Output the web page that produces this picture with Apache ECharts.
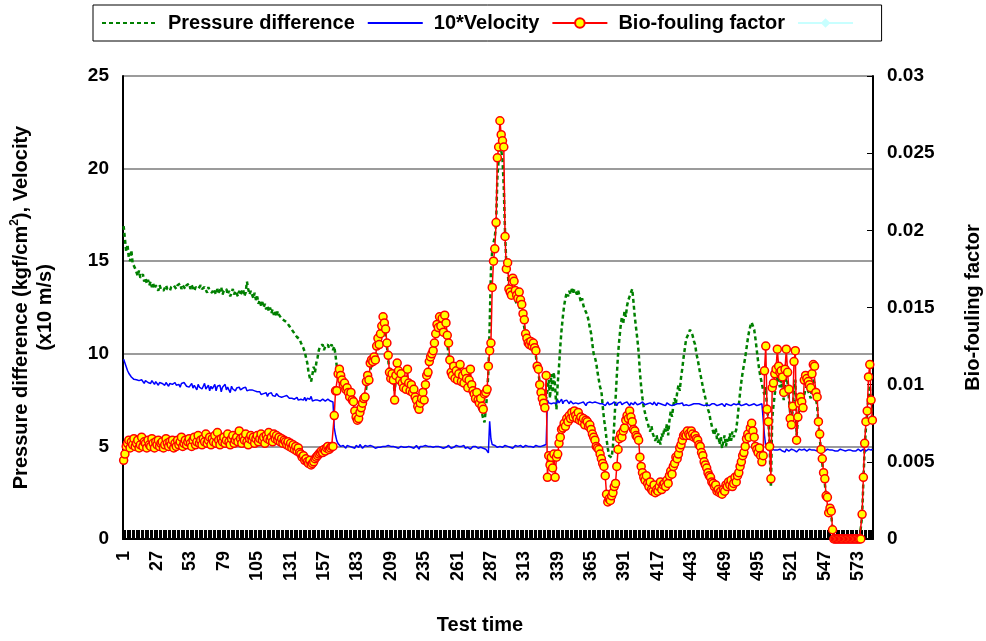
<!DOCTYPE html>
<html>
<head>
<meta charset="utf-8">
<script src="https://cdn.jsdelivr.net/npm/echarts@6.0.0/dist/echarts.min.js"></script>
<style>
html,body{margin:0;padding:0;background:#fff;}
#chart{width:986px;height:641px;}
</style>
</head>
<body>
<div id="chart"></div>
<script>
// ---- DATA ----
const N_POINTS = 584;
const categories = Array.from({length: N_POINTS}, (_, i) => String(i + 1));

// Pressure difference (kgf/cm2), left axis
const pressureDiff = [
16.9,16.2,15.5,15.9,15.2,15.0,15.6,14.9,15.0,14.6,
14.4,14.2,14.5,14.1,14.0,14.3,13.9,14.1,13.8,14.0,
13.7,13.9,13.6,13.8,13.5,13.7,13.6,13.4,13.7,13.5,
13.6,13.4,13.5,13.7,13.5,13.6,13.4,13.6,13.5,13.7,
13.6,13.5,13.7,13.6,13.8,13.5,13.7,13.6,13.5,13.7,
13.6,13.8,13.5,13.7,13.6,13.4,13.6,13.7,13.5,13.6,
13.7,13.5,13.4,13.6,13.5,13.3,13.6,13.4,13.5,13.3,
13.5,13.4,13.2,13.5,13.3,13.4,13.6,13.2,13.4,13.3,
13.5,13.2,13.4,13.1,13.3,13.5,13.2,13.4,13.3,13.1,
13.4,13.2,13.3,13.5,13.1,13.3,13.9,13.5,13.2,13.4,
13.2,13.0,13.3,12.9,13.1,12.7,12.9,12.6,12.8,12.5,
12.7,12.4,12.6,12.3,12.5,12.2,12.4,12.1,12.3,12.0,
12.3,12.1,12.2,11.9,12.0,11.8,11.9,11.7,11.8,11.5,
11.6,11.3,11.4,11.1,11.2,10.9,11.0,10.8,10.6,10.5,
10.3,10.1,10.0,9.5,9.0,8.7,8.5,8.9,9.3,9.0,
9.5,9.8,10.2,10.4,10.3,10.5,10.2,10.4,10.3,10.5,
10.3,10.4,10.5,10.2,10.4,9.9,9.3,8.6,9.0,8.7,
8.4,8.2,8.1,8.0,7.9,7.7,7.5,7.6,7.3,7.1,
6.8,6.5,6.3,6.4,6.6,6.9,7.1,7.4,7.6,8.2,
8.5,8.6,9.1,9.4,9.5,9.6,9.7,10.1,10.4,10.5,
10.8,11.2,11.6,11.5,11.0,10.4,9.7,9.0,8.6,8.7,
8.4,8.0,8.6,9.0,8.9,8.5,8.6,8.3,8.1,8.3,
8.0,8.4,8.2,7.9,8.0,7.8,7.8,7.6,7.3,7.0,
6.9,7.1,7.3,7.6,7.6,8.0,8.5,8.8,9.3,9.6,
9.8,10.0,10.3,10.6,10.9,11.0,11.2,11.1,11.3,11.0,
11.0,10.8,10.5,10.0,9.4,8.9,8.7,8.9,8.6,8.8,
8.5,8.6,8.8,8.4,8.5,8.3,8.5,8.4,8.1,8.3,
8.6,8.2,7.8,7.6,7.4,7.5,7.2,7.0,7.1,6.8,
6.5,6.3,7.0,7.8,9.0,11.5,14.5,15.6,16.0,16.3,
17.0,19.5,20.5,21.3,21.0,20.5,19.0,16.5,14.8,14.6,
13.4,13.1,13.0,13.4,13.2,12.9,12.7,12.6,12.6,12.3,
12.1,11.8,11.4,10.9,10.6,10.4,10.3,10.4,10.2,10.3,
10.1,9.9,9.2,9.0,8.4,8.0,7.7,7.4,7.2,7.6,
8.0,8.6,7.6,8.9,7.9,9.0,8.2,7.0,8.4,9.3,
10.4,11.3,12.0,12.6,13.0,13.3,13.1,13.4,13.2,13.5,
13.3,13.5,13.4,13.2,13.4,13.1,12.8,13.0,12.6,12.4,
12.5,12.1,11.8,11.4,11.1,10.5,10.0,9.8,9.5,9.0,
8.6,8.2,8.0,7.2,6.5,6.0,5.4,4.9,4.5,4.6,
4.4,5.0,6.2,7.5,8.8,10.0,10.8,11.5,12.0,11.6,
12.3,12.0,12.6,12.9,13.1,13.3,13.5,12.8,12.0,11.4,
10.8,10.1,9.0,8.2,7.6,7.1,6.8,6.5,6.3,6.0,
5.8,6.1,5.7,5.5,5.3,5.6,5.2,5.4,5.1,5.7,
5.5,6.0,5.8,6.2,5.6,6.4,6.9,6.6,7.2,7.6,
7.3,7.9,8.3,8.0,8.7,9.2,9.8,10.3,10.8,10.9,
11.1,11.3,11.2,11.0,10.7,10.5,10.0,9.7,9.3,8.9,
8.6,8.2,7.9,7.6,7.3,7.0,6.8,6.4,6.1,5.8,
5.6,6.0,5.4,5.7,5.1,5.5,4.9,5.3,5.6,5.0,
5.4,5.2,5.7,5.3,5.8,5.5,5.5,5.9,6.5,7.2,
7.9,8.5,9.0,9.4,9.8,10.3,10.8,11.2,11.5,11.7,
11.6,11.3,10.8,10.2,9.6,9.1,8.7,8.4,8.0,7.8,
8.2,7.0,6.5,5.0,2.8,6.5,7.2,7.8,8.4,8.8,
8.5,8.2,8.6,8.0,7.5,8.3,8.9,8.4,7.6,6.8,
6.3,7.0,8.2,8.6,5.6,6.4,7.0,7.3,7.1,7.0,
7.8,8.1,8.3,8.0,7.8,7.6,8.2,8.6,8.4,7.6,
7.2,6.2,5.5,4.7,4.1,3.4,3.0,2.2,2.0,1.3,
1.5,1.3,0.5,0,0,0,0,0,0,0,
0,0,0,0,0,0,0,0,0,0,
0,0,0,0,0,1.2,3.1,4.9,6.0,6.8,
7.8,8.3,7.2,6.5
];

// 10*Velocity (x10 m/s), left axis
const velocity10 = [
9.7,9.5,9.3,9.1,8.95,8.85,8.75,8.7,8.62,8.55,
8.6,8.5,8.55,8.45,8.6,8.5,8.4,8.55,8.5,8.45,
8.5,8.4,8.55,8.45,8.35,8.5,8.4,8.3,8.45,8.35,
8.4,8.5,8.3,8.45,8.35,8.25,8.4,8.5,8.35,8.3,
8.45,8.3,8.4,8.35,8.2,8.4,8.3,8.45,8.35,8.25,
8.35,8.2,8.3,8.4,8.15,8.3,8.25,8.05,8.35,8.2,
8.3,8.1,8.25,8.4,8.1,8.2,8.3,8.0,8.25,8.1,
8.2,8.35,8.0,8.25,8.15,8.3,7.95,8.2,8.1,8.35,
8.05,8.2,8.15,7.9,8.25,8.1,8.2,8.0,8.15,8.1,
8.2,8.05,7.95,8.15,8.1,8.2,8.0,8.1,8.05,7.95,
8.05,7.95,8.0,7.9,7.95,7.85,7.95,7.8,7.9,7.85,
7.75,7.9,7.7,7.85,7.8,7.9,7.75,7.8,7.7,7.85,
7.75,7.7,7.8,7.65,7.75,7.7,7.6,7.75,7.65,7.6,
7.7,7.6,7.65,7.55,7.6,7.65,7.5,7.6,7.55,7.6,
7.5,7.65,7.45,7.6,7.5,7.55,7.7,7.45,7.55,7.5,
7.6,7.5,7.55,7.45,7.5,7.55,7.5,7.45,7.5,7.55,
7.5,7.45,7.5,7.4,6.0,5.6,5.3,5.15,5.05,5.0,
4.95,5.05,5.0,4.9,5.05,4.95,5.0,5.1,4.95,5.0,
4.9,5.05,5.0,4.95,5.1,5.0,4.9,5.0,5.05,4.95,
5.0,4.9,5.05,4.95,5.0,5.05,4.9,5.0,4.95,5.05,
4.95,4.85,5.0,4.95,5.0,4.9,5.05,4.95,5.0,4.9,
5.0,5.05,4.95,5.0,4.9,4.95,5.0,5.05,4.95,5.0,
4.95,4.9,5.0,5.05,4.95,5.0,4.9,5.0,5.05,4.95,
4.85,5.0,4.95,5.0,4.9,5.05,4.95,5.0,4.95,5.0,
5.05,4.95,4.9,5.0,4.95,5.0,5.05,4.95,5.0,4.9,
5.0,4.95,5.0,5.05,4.95,4.9,5.0,4.95,5.0,5.05,
4.95,5.0,4.9,5.0,4.95,5.05,4.9,5.0,4.95,5.0,
4.85,4.95,5.0,4.9,5.0,4.95,4.9,5.0,4.95,5.0,
4.9,4.95,4.85,4.95,4.65,6.35,5.4,5.1,5.0,5.05,
5.0,4.95,5.05,5.0,5.1,4.95,5.0,5.05,4.95,5.0,
5.05,4.95,5.0,4.9,5.0,5.05,4.95,5.0,4.95,5.05,
5.0,4.95,5.0,5.05,4.95,5.0,4.9,5.0,5.05,4.95,
5.0,5.05,4.95,5.0,5.05,5.0,4.95,5.05,5.0,5.1,
7.5,7.35,7.45,7.3,7.4,7.35,7.45,7.3,7.5,7.35,
7.4,7.55,7.3,7.45,7.35,7.5,7.4,7.3,7.45,7.35,
7.3,7.4,7.35,7.45,7.3,7.4,7.35,7.3,7.4,7.35,
7.2,7.35,7.3,7.4,7.3,7.35,7.25,7.4,7.3,7.35,
7.25,7.3,7.4,7.3,7.35,7.2,7.3,7.4,7.25,7.35,
7.3,7.25,7.4,7.3,7.2,7.35,7.3,7.4,7.25,7.3,
7.35,7.25,7.4,7.3,7.2,7.35,7.3,7.25,7.4,7.3,
7.25,7.35,7.3,7.2,7.4,7.3,7.25,7.35,7.3,7.2,
7.35,7.3,7.25,7.4,7.3,7.2,7.35,7.25,7.3,7.35,
7.25,7.3,7.2,7.35,7.3,7.25,7.35,7.2,7.3,7.25,
7.35,7.3,7.2,7.3,7.25,7.35,7.2,7.3,7.25,7.3,
7.2,7.3,7.25,7.35,7.3,7.2,7.3,7.25,7.3,7.2,
7.25,7.3,7.2,7.3,7.25,7.35,7.2,7.25,7.3,7.2,
7.3,7.25,7.2,7.3,7.25,7.2,7.3,7.25,7.15,7.3,
7.2,7.25,7.3,7.2,7.25,7.3,7.2,7.25,7.2,7.3,
7.25,7.2,7.3,7.25,7.2,7.3,7.25,7.2,7.3,7.25,
7.2,7.3,7.25,7.2,7.3,7.25,7.2,7.3,7.25,5.6,
5.0,4.85,4.8,4.75,4.8,4.85,4.75,4.8,4.85,4.8,
4.75,4.85,4.8,4.75,4.8,4.7,4.85,4.8,4.75,4.8,
4.85,4.75,4.8,4.8,4.7,4.8,4.85,4.75,4.8,4.75,
4.85,4.8,4.75,4.8,4.85,4.75,4.8,4.7,4.8,4.85,
4.75,4.8,4.8,4.75,4.85,4.8,4.75,4.8,4.85,4.75,
4.8,4.75,4.8,4.85,4.75,4.8,4.75,4.8,4.85,4.75,
4.8,4.8,4.75,4.85,4.8,4.75,4.8,4.85,4.75,4.8,
4.75,4.8,4.85,4.8,4.75,4.8,4.85,4.8,4.75,4.8,
4.85,4.9,4.8,4.85
];

// Bio-fouling factor, right axis
const bioFouling = [
0.0051,0.0055,0.0060,0.0062,0.0064,0.0059,0.0063,0.0061,0.0065,0.0060,
0.0062,0.0064,0.0059,0.0061,0.0066,0.0060,0.0063,0.0062,0.0059,0.0064,
0.0061,0.0060,0.0065,0.0062,0.0059,0.0063,0.0061,0.0064,0.0060,0.0062,
0.0063,0.0059,0.0061,0.0065,0.0062,0.0060,0.0063,0.0061,0.0064,0.0059,
0.0062,0.0060,0.0064,0.0061,0.0063,0.0066,0.0060,0.0062,0.0064,0.0061,
0.0063,0.0065,0.0062,0.0060,0.0064,0.0066,0.0061,0.0063,0.0067,0.0062,
0.0064,0.0061,0.0065,0.0063,0.0068,0.0062,0.0064,0.0066,0.0061,0.0065,
0.0063,0.0067,0.0062,0.0069,0.0064,0.0061,0.0065,0.0063,0.0066,0.0062,
0.0064,0.0068,0.0063,0.0061,0.0065,0.0067,0.0062,0.0064,0.0066,0.0063,
0.0070,0.0065,0.0062,0.0066,0.0064,0.0068,0.0063,0.0061,0.0065,0.0067,
0.0064,0.0066,0.0062,0.0065,0.0067,0.0063,0.0065,0.0068,0.0064,0.0066,
0.0062,0.0067,0.0065,0.0069,0.0064,0.0066,0.0063,0.0068,0.0065,0.0067,
0.0064,0.0066,0.0063,0.0065,0.0062,0.0064,0.0063,0.0061,0.0063,0.0060,
0.0062,0.0059,0.0061,0.0058,0.0060,0.0057,0.0059,0.0056,0.0055,0.0053,
0.0054,0.0051,0.0052,0.0050,0.0049,0.0051,0.0048,0.0049,0.0050,0.0052,
0.0053,0.0054,0.0055,0.0056,0.0057,0.0056,0.0058,0.0057,0.0059,0.0060,
0.0058,0.0059,0.0060,0.0060,0.0080,0.0096,0.0096,0.0107,0.0110,0.0106,
0.0103,0.0100,0.0101,0.0097,0.0098,0.0095,0.0092,0.0095,0.0090,0.0089,
0.0083,0.0079,0.0077,0.0078,0.0082,0.0085,0.0088,0.0091,0.0092,0.0102,
0.0106,0.0103,0.0114,0.0116,0.0115,0.0118,0.0116,0.0125,0.0130,0.0126,
0.0133,0.0138,0.0144,0.0140,0.0136,0.0127,0.0119,0.0108,0.0104,0.0107,
0.0103,0.0090,0.0106,0.0114,0.0109,0.0103,0.0107,0.0101,0.0098,0.0103,
0.0097,0.0110,0.0101,0.0096,0.0100,0.0095,0.0097,0.0092,0.0090,0.0086,
0.0084,0.0088,0.0091,0.0095,0.0090,0.0100,0.0106,0.0108,0.0115,0.0118,
0.0120,0.0122,0.0127,0.0133,0.0139,0.0137,0.0144,0.0138,0.0143,0.0134,
0.0145,0.0140,0.0132,0.0127,0.0116,0.0108,0.0106,0.0112,0.0104,0.0109,
0.0103,0.0107,0.0113,0.0102,0.0106,0.0101,0.0108,0.0104,0.0098,0.0103,
0.0110,0.0100,0.0096,0.0094,0.0091,0.0095,0.0090,0.0088,0.0091,0.0086,
0.0084,0.0094,0.0095,0.0097,0.0112,0.0122,0.0127,0.0163,0.0180,0.0188,
0.0205,0.0247,0.0254,0.0271,0.0262,0.0258,0.0254,0.0196,0.0175,0.0179,
0.0162,0.0160,0.0158,0.0169,0.0167,0.0161,0.0158,0.0156,0.0160,0.0155,
0.0152,0.0146,0.0142,0.0133,0.0130,0.0127,0.0126,0.0128,0.0125,0.0127,
0.0124,0.0122,0.0112,0.0110,0.0100,0.0095,0.0091,0.0088,0.0085,0.0106,
0.0040,0.0054,0.0048,0.0053,0.0046,0.0055,0.0040,0.0053,0.0055,0.0062,
0.0066,0.0071,0.0072,0.0075,0.0073,0.0078,0.0076,0.0080,0.0078,0.0082,
0.0079,0.0083,0.0080,0.0078,0.0082,0.0077,0.0079,0.0076,0.0078,0.0074,
0.0077,0.0076,0.0073,0.0074,0.0071,0.0068,0.0066,0.0064,0.0060,0.0059,
0.0058,0.0055,0.0052,0.0049,0.0047,0.0041,0.0029,0.0024,0.0026,0.0025,
0.0028,0.0030,0.0034,0.0036,0.0047,0.0058,0.0065,0.0068,0.0066,0.0070,
0.0072,0.0077,0.0080,0.0078,0.0083,0.0079,0.0076,0.0071,0.0070,0.0067,
0.0066,0.0064,0.0053,0.0047,0.0043,0.0040,0.0038,0.0041,0.0036,0.0034,
0.0037,0.0032,0.0031,0.0035,0.0030,0.0032,0.0031,0.0034,0.0037,0.0032,
0.0035,0.0036,0.0034,0.0038,0.0036,0.0041,0.0044,0.0042,0.0047,0.0049,
0.0053,0.0052,0.0055,0.0059,0.0061,0.0064,0.0067,0.0068,0.0067,0.0070,
0.0068,0.0067,0.0070,0.0068,0.0066,0.0067,0.0065,0.0064,0.0061,0.0060,
0.0056,0.0054,0.0050,0.0048,0.0046,0.0043,0.0041,0.0040,0.0037,0.0036,
0.0034,0.0035,0.0031,0.0032,0.0030,0.0031,0.0029,0.0032,0.0031,0.0035,
0.0034,0.0037,0.0035,0.0038,0.0034,0.0036,0.0040,0.0037,0.0041,0.0043,
0.0047,0.0050,0.0054,0.0056,0.0060,0.0065,0.0068,0.0066,0.0072,0.0075,
0.0070,0.0066,0.0060,0.0058,0.0056,0.0059,0.0054,0.0050,0.0054,0.0109,
0.0125,0.0084,0.0076,0.0060,0.0039,0.0098,0.0101,0.0107,0.0110,0.0123,
0.0112,0.0108,0.0109,0.0105,0.0095,0.0110,0.0123,0.0108,0.0097,0.0078,
0.0074,0.0086,0.0115,0.0122,0.0064,0.0079,0.0088,0.0092,0.0089,0.0085,
0.0103,0.0106,0.0104,0.0102,0.0100,0.0098,0.0107,0.0113,0.0112,0.0095,
0.0092,0.0076,0.0068,0.0058,0.0052,0.0043,0.0039,0.0028,0.0027,0.0017,
0.0020,0.0018,0.0006,0,0,0,0,0,0,0,
0,0,0,0,0,0,0,0,0,0,
0,0,0,0,0,0.0016,0.0040,0.0062,0.0076,0.0083,
0.0105,0.0113,0.0090,0.0077
];

const seriesNames = ['Pressure difference', '10*Velocity', 'Bio-fouling factor', ' '];
const leftTitle = '{t|Pressure difference (kgf/cm}{sup|2}{t|), Velocity}\n{t|(x10 m/s)}';
const rightTitle = 'Bio-fouling factor';
const xTitle = 'Test time';

[pressureDiff, velocity10, bioFouling].forEach((a, k) => {
  if (a.length !== N_POINTS) throw new Error('array ' + k + ' has length ' + a.length);
});

// ---- CHART ----
const FONT = '"Liberation Sans", Arial, sans-serif';
const chart = echarts.init(document.getElementById('chart'), null, {renderer: 'canvas'});

chart.setOption({
  animation: false,
  backgroundColor: '#ffffff',
  textStyle: {fontFamily: FONT},
  grid: {left: 123, right: 113, top: 76, bottom: 102, containLabel: false, outerBoundsMode: 'none'},
  legend: {
    left: 93, top: 5,
    orient: 'horizontal',
    itemWidth: 55, itemHeight: 12, itemGap: 12,
    padding: [8, 12, 8, 8],
    borderColor: '#000', borderWidth: 1, backgroundColor: '#fff',
    textStyle: {fontSize: 20, fontWeight: 'bold', color: '#000', fontFamily: FONT, padding: [0, 0, 0, 6]},
    data: [
      {name: seriesNames[0], itemStyle: {opacity: 0}},
      {name: seriesNames[1], itemStyle: {opacity: 0}},
      {name: seriesNames[2]},
      {name: seriesNames[3]}
    ]
  },
  xAxis: [{
    type: 'category',
    data: categories,
    boundaryGap: true,
    position: 'bottom',
    axisLine: {show: true, lineStyle: {color: '#000', width: 2}},
    axisTick: {show: true, inside: true, length: 9, interval: 0, lineStyle: {color: '#000', width: 1}},
    axisLabel: {interval: 25, rotate: 90, margin: 12, fontSize: 18, fontWeight: 'bold', color: '#000', fontFamily: FONT},
    splitLine: {show: false},
    name: xTitle,
    nameLocation: 'middle',
    nameGap: 76,
    nameTextStyle: {fontSize: 20, fontWeight: 'bold', color: '#000', fontFamily: FONT, padding: [0, 36, 0, 0]}
  }, {
    type: 'category',
    data: categories,
    position: 'top',
    axisLine: {show: true, lineStyle: {color: '#000', width: 1.5}},
    axisTick: {show: false},
    axisLabel: {show: false},
    splitLine: {show: false}
  }],
  yAxis: [{
    type: 'value',
    min: 0, max: 25, interval: 5,
    position: 'left',
    axisLine: {show: true, lineStyle: {color: '#000', width: 2}},
    axisTick: {show: false},
    axisLabel: {margin: 14, fontSize: 19, fontWeight: 'bold', color: '#000', fontFamily: FONT},
    splitLine: {show: true, lineStyle: {color: '#7a7a7a', width: 1.5}},
    name: leftTitle,
    nameLocation: 'middle',
    nameRotate: 90,
    nameGap: 66,
    nameTextStyle: {
      color: '#000', fontFamily: FONT, fontWeight: 'bold', fontSize: 20, align: 'center',
      rich: {
        t: {fontSize: 20, fontWeight: 'bold', color: '#000', fontFamily: FONT, lineHeight: 24},
        sup: {fontSize: 12, fontWeight: 'bold', color: '#000', fontFamily: FONT, lineHeight: 24, verticalAlign: 'top'}
      }
    }
  }, {
    type: 'value',
    min: 0, max: 0.03, interval: 0.005,
    position: 'right',
    axisLine: {show: true, lineStyle: {color: '#000', width: 2}},
    axisTick: {show: true, inside: true, length: 6, lineStyle: {color: '#000', width: 1}},
    axisLabel: {margin: 14, fontSize: 19, fontWeight: 'bold', color: '#000', fontFamily: FONT},
    splitLine: {show: false},
    name: rightTitle,
    nameLocation: 'middle',
    nameRotate: 90,
    nameGap: 90,
    nameTextStyle: {fontSize: 20, fontWeight: 'bold', color: '#000', fontFamily: FONT}
  }],
  series: [{
    name: seriesNames[0],
    type: 'line',
    data: pressureDiff,
    xAxisIndex: 0, yAxisIndex: 0,
    symbol: 'none',
    color: '#008000',
    lineStyle: {color: '#008000', width: 2.5, type: [4, 3]},
    z: 2
  }, {
    name: seriesNames[1],
    type: 'line',
    data: velocity10,
    xAxisIndex: 0, yAxisIndex: 0,
    symbol: 'none',
    color: '#0000FF',
    lineStyle: {color: '#0000FF', width: 1.5},
    z: 3
  }, {
    name: seriesNames[2],
    type: 'line',
    data: bioFouling,
    xAxisIndex: 0, yAxisIndex: 1,
    symbol: 'circle',
    symbolSize: 8,
    showSymbol: true,
    showAllSymbol: true,
    color: '#FFFF00',
    itemStyle: {color: '#FFFF00', borderColor: '#FF0000', borderWidth: 1.5},
    lineStyle: {color: '#FF0000', width: 1.5},
    z: 4
  }, {
    name: seriesNames[3],
    type: 'line',
    data: [],
    xAxisIndex: 0, yAxisIndex: 1,
    symbol: 'diamond',
    symbolSize: 9,
    color: '#C8FFFF',
    itemStyle: {color: '#C8FFFF'},
    lineStyle: {color: '#C8FFFF', width: 2},
    z: 1
  }]
});
</script>
</body>
</html>
